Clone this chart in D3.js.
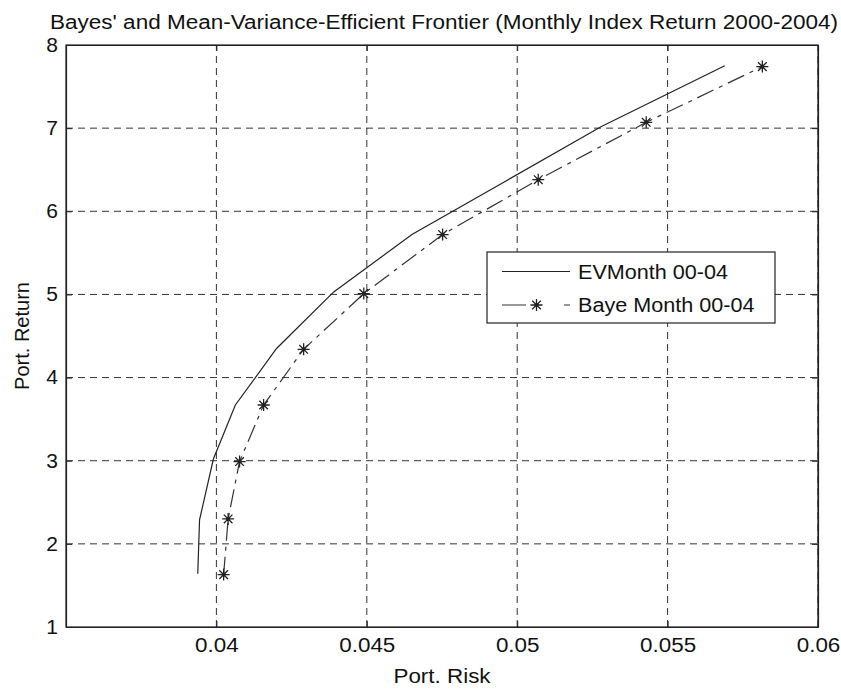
<!DOCTYPE html>
<meta charset="utf-8">
<title>Bayes' and Mean-Variance-Efficient Frontier</title>
<script src="https://cdn.jsdelivr.net/npm/d3@7"></script>
<style>
  body { margin: 0; background: #fff; }
  text { font-family: "Liberation Sans", Arial, sans-serif; fill: #111; }
</style>
<body>
<div id="chart"></div>
<script>
  // ticks
  var riskTicks = [0.04, 0.045, 0.05, 0.055, 0.06];
  var returnTicks = [1, 2, 3, 4, 5, 6, 7, 8];

  // mean-variance efficient frontier
  var evRisk = [0.03938, 0.03944, 0.0399, 0.04063, 0.0420, 0.0439, 0.0465, 0.0497, 0.0528, 0.0569];
  var evReturn = [1.64, 2.29, 3.02, 3.67, 4.35, 5.03, 5.72, 6.38, 7.02, 7.75];

  // Bayes frontier
  var bayesRisk = [0.04024, 0.04039, 0.04077, 0.04157, 0.0429, 0.0449, 0.04752, 0.0507, 0.05429, 0.05815];
  var bayesReturn = [1.63, 2.30, 2.99, 3.67, 4.34, 5.01, 5.72, 6.38, 7.07, 7.74];

  var seriesNames = ["EVMonth 00-04", "Baye Month 00-04"];

  var width = 841, height = 689;
  var margin = { top: 45, right: 23, bottom: 62, left: 66 };
  var fs = 20;

  var svg = d3.select("#chart").append("svg")
    .attr("width", width)
    .attr("height", height);

  var x = d3.scaleLinear()
    .domain([0.035, 0.06])
    .range([margin.left, width - margin.right]);

  var y = d3.scaleLinear()
    .domain([1, 8])
    .range([height - margin.bottom, margin.top]);

  // stretch text horizontally a little, the scanned figure is wider than Arial
  function stretch(sel, k) {
    sel.each(function () {
      var w = this.getComputedTextLength();
      d3.select(this).attr("textLength", w * k).attr("lengthAdjust", "spacingAndGlyphs");
    });
  }

  // grid lines
  var grid = svg.append("g")
    .attr("stroke", "#333")
    .attr("stroke-width", 1)
    .attr("stroke-dasharray", "7,5");

  grid.selectAll(".vgrid")
    .data(riskTicks)
    .enter().append("line")
    .attr("x1", function (d) { return x(d); })
    .attr("x2", function (d) { return x(d); })
    .attr("y1", y(1))
    .attr("y2", y(8));

  grid.selectAll(".hgrid")
    .data(returnTicks.slice(1, -1))
    .enter().append("line")
    .attr("x1", x(0.035))
    .attr("x2", x(0.06))
    .attr("y1", function (d) { return y(d); })
    .attr("y2", function (d) { return y(d); });

  // axes
  var xAxis = svg.append("g")
    .attr("transform", "translate(0," + y(1) + ")")
    .call(d3.axisBottom(x).tickValues(riskTicks).tickFormat(d3.format("")).tickSizeInner(-6).tickSizeOuter(0).tickPadding(11));

  var yAxis = svg.append("g")
    .attr("transform", "translate(" + x(0.035) + ",0)")
    .call(d3.axisLeft(y).tickValues(returnTicks).tickFormat(d3.format("d")).tickSizeInner(-6).tickSizeOuter(0).tickPadding(8));

  svg.append("g")
    .attr("transform", "translate(0," + y(8) + ")")
    .call(d3.axisTop(x).tickValues(riskTicks).tickFormat("").tickSizeInner(-6).tickSizeOuter(0));

  svg.append("g")
    .attr("transform", "translate(" + x(0.06) + ",0)")
    .call(d3.axisRight(y).tickValues(returnTicks).tickFormat("").tickSizeInner(-6).tickSizeOuter(0));

  svg.selectAll(".domain").attr("stroke", "#222").attr("stroke-width", 1.2);
  svg.selectAll(".tick line").attr("stroke", "#222");
  svg.selectAll(".tick text").attr("font-size", fs).attr("fill", "#111")
    .attr("font-family", "Liberation Sans, Arial, sans-serif");
  stretch(xAxis.selectAll(".tick text"), 1.12);
  stretch(yAxis.selectAll(".tick text"), 1.05);

  // box border
  svg.append("rect")
    .attr("x", x(0.035))
    .attr("y", y(8))
    .attr("width", x(0.06) - x(0.035))
    .attr("height", y(1) - y(8))
    .attr("fill", "none")
    .attr("stroke", "#222")
    .attr("stroke-width", 1.2);

  // series
  var ev = evRisk.map(function (d, i) { return [d, evReturn[i]]; });
  var bayes = bayesRisk.map(function (d, i) { return [d, bayesReturn[i]]; });

  var line = d3.line()
    .x(function (d) { return x(d[0]); })
    .y(function (d) { return y(d[1]); });

  svg.append("path")
    .datum(ev)
    .attr("d", line)
    .attr("fill", "none")
    .attr("stroke", "#222")
    .attr("stroke-width", 1.2);

  svg.append("path")
    .datum(bayes)
    .attr("d", line)
    .attr("fill", "none")
    .attr("stroke", "#333")
    .attr("stroke-width", 1.2)
    .attr("stroke-dasharray", "18,6,4,6");

  // asterisk marker like matlab '*'
  function star(r) {
    var q = r * 0.72;
    return "M" + (-r) + ",0L" + r + ",0M0," + (-r) + "L0," + r +
      "M" + (-q) + "," + (-q) + "L" + q + "," + q +
      "M" + (-q) + "," + q + "L" + q + "," + (-q);
  }

  svg.append("g").selectAll("path")
    .data(bayes)
    .enter().append("path")
    .attr("transform", function (d) { return "translate(" + x(d[0]) + "," + y(d[1]) + ")"; })
    .attr("d", star(6))
    .attr("stroke", "#222")
    .attr("stroke-width", 1.3)
    .attr("fill", "none");

  svg.append("g").selectAll("circle")
    .data(bayes)
    .enter().append("circle")
    .attr("cx", function (d) { return x(d[0]); })
    .attr("cy", function (d) { return y(d[1]); })
    .attr("r", 2)
    .attr("fill", "#222");

  // legend
  var legend = svg.append("g");
  legend.append("rect")
    .attr("x", 487).attr("y", 252)
    .attr("width", 288).attr("height", 71)
    .attr("fill", "#fff")
    .attr("stroke", "#222")
    .attr("stroke-width", 1.2);

  legend.append("line")
    .attr("x1", 502).attr("x2", 570)
    .attr("y1", 271.5).attr("y2", 271.5)
    .attr("stroke", "#222").attr("stroke-width", 1.2);

  legend.append("line")
    .attr("x1", 502).attr("x2", 570)
    .attr("y1", 305).attr("y2", 305)
    .attr("stroke", "#333").attr("stroke-width", 1.2)
    .attr("stroke-dasharray", "24,38,6,40");

  legend.append("path")
    .attr("transform", "translate(536.5,305)")
    .attr("d", star(6))
    .attr("stroke", "#222").attr("stroke-width", 1.3).attr("fill", "none");
  legend.append("circle")
    .attr("cx", 536.5).attr("cy", 305).attr("r", 2).attr("fill", "#222");

  var legendText = legend.selectAll(".lt")
    .data(seriesNames)
    .enter().append("text")
    .attr("x", 578)
    .attr("y", function (d, i) { return i ? 312 : 278.5; })
    .attr("font-size", fs)
    .text(function (d) { return d; });
  stretch(legendText, 1.08);

  // title and axis labels
  var title = svg.append("text")
    .attr("x", 444)
    .attr("y", 29)
    .attr("text-anchor", "middle")
    .attr("font-size", fs)
    .text("Bayes' and Mean-Variance-Efficient Frontier (Monthly Index Return 2000-2004)");
  title.attr("textLength", 788).attr("lengthAdjust", "spacingAndGlyphs");

  var xLabel = svg.append("text")
    .attr("x", 442)
    .attr("y", 683)
    .attr("text-anchor", "middle")
    .attr("font-size", fs)
    .text("Port. Risk");
  stretch(xLabel, 1.12);

  svg.append("text")
    .attr("transform", "translate(29,336) rotate(-90)")
    .attr("text-anchor", "middle")
    .attr("font-size", fs)
    .text("Port. Return");
</script>
</body>
